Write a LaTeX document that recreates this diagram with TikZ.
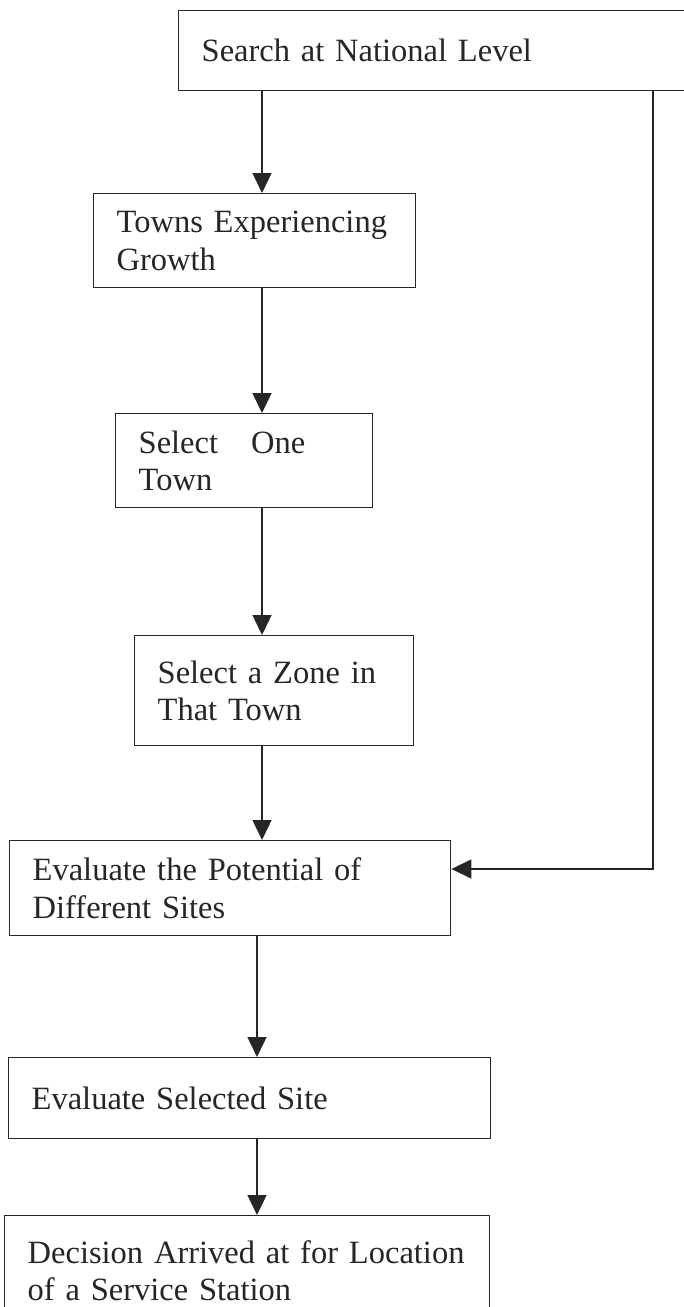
\documentclass[tikz,border=0pt]{standalone}
\usepackage{fontspec}
\setmainfont{Liberation Serif}
\usepackage{tikz}
\usepackage{xcolor}
\usetikzlibrary{arrows.meta, positioning}
\definecolor{ink}{RGB}{38,38,38}

\begin{document}
\begin{tikzpicture}[
  x=1pt, y=1pt,
  stage/.style={draw=ink, line width=1.4pt, anchor=north west, inner xsep=23pt, inner ysep=0pt, align=left, text width=#1, font=\fontsize{32.5}{37.5}\selectfont, text=ink},
  arr/.style={-{Triangle[length=20pt, width=19pt]}, line width=1.4pt, draw=ink},
]
\clip (0,0) rectangle (684,-1307);
\fill[white] (0,0) rectangle (684,-1307);
\coordinate (spineA) at (262,0);
\coordinate (spineB) at (257,0);
\coordinate (back) at (653,-869);

\node[stage=494pt, minimum height=80pt] (srch) at (178,-10) {Search at National Level};
\node[stage=276pt, minimum height=94pt] (towns) at (93,-193) {Towns Experiencing\\Growth};
\node[stage=211pt, minimum height=94pt] (one) at (115,-413) {Select\hspace{33pt}One\\Town};
\node[stage=233pt, minimum height=110pt] (zone) at (134,-635) {Select a Zone in\\That Town};
\node[stage=395pt, minimum height=95pt] (sites) at (9,-840) {Evaluate the Potential of\\Different Sites};
\node[stage=436pt, minimum height=81pt] (eval) at (8,-1057) {Evaluate Selected Site};
\node[stage=439pt, minimum height=110pt] (decide) at (4,-1215) {Decision Arrived at for Location\\of a Service Station};

\draw[arr] (srch.south -| spineA) -- (towns.north -| spineA);
\draw[arr] (towns.south -| spineA) -- (one.north -| spineA);
\draw[arr] (one.south -| spineA) -- (zone.north -| spineA);
\draw[arr] (zone.south -| spineA) -- (sites.north -| spineA);
\draw[arr] (sites.south -| spineB) -- (eval.north -| spineB);
\draw[arr] (eval.south -| spineB) -- (decide.north -| spineB);
\draw[arr] (srch.south -| back) |- (sites.east |- back);
\end{tikzpicture}
\end{document}
